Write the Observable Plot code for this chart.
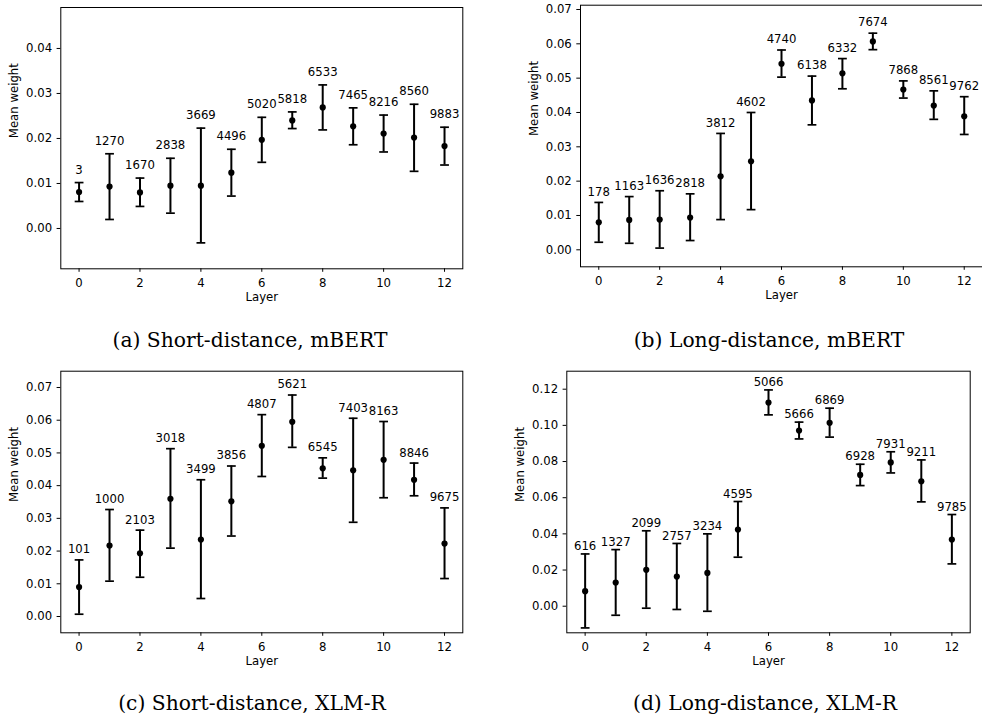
<!DOCTYPE html>
<html>
<head>
<meta charset="utf-8">
<script src="https://cdn.jsdelivr.net/npm/d3@7"></script>
<script src="https://cdn.jsdelivr.net/npm/@observablehq/plot@0.6"></script>
<style>
  html, body { margin: 0; padding: 0; background: #fff; }
  #wrap { position: relative; width: 982px; height: 722px; background: #fff; overflow: hidden; }
  .panel { position: absolute; }
  .cap { position: absolute; font-family: "DejaVu Serif", serif; font-size: 20.3px; line-height: 20.3px;
         color: #000; white-space: nowrap; transform: translateX(-50%); }
</style>
</head>
<body>
<div id="wrap"></div>
<script>
// ---------- data ----------
const layers = [0, 1, 2, 3, 4, 5, 6, 7, 8, 9, 10, 11, 12];
const xTicks = [0, 2, 4, 6, 8, 10, 12];
const xDomain = [-0.6, 12.6];

// (a) Short-distance, mBERT
const aMean  = [0.0081, 0.0093, 0.0080, 0.0095, 0.0095, 0.0124, 0.0197, 0.0240, 0.0269, 0.0227, 0.0211, 0.0202, 0.0183];
const aLow   = [0.0060, 0.0020, 0.0049, 0.0034, -0.0032, 0.0072, 0.0147, 0.0222, 0.0219, 0.0186, 0.0170, 0.0127, 0.0141];
const aHigh  = [0.0102, 0.0166, 0.0112, 0.0156, 0.0223, 0.0176, 0.0247, 0.0259, 0.0319, 0.0268, 0.0252, 0.0276, 0.0225];
const aCount = [3, 1270, 1670, 2838, 3669, 4496, 5020, 5818, 6533, 7465, 8216, 8560, 9883];
const aYTicks = [0, 0.01, 0.02, 0.03, 0.04];
const aYDomain = [-0.00896, 0.0491];

// (b) Long-distance, mBERT
const bMean  = [0.0080, 0.0087, 0.0088, 0.0094, 0.0214, 0.0258, 0.0542, 0.0435, 0.0514, 0.0607, 0.0467, 0.0420, 0.0389];
const bLow   = [0.0022, 0.0019, 0.0005, 0.0027, 0.0088, 0.0117, 0.0503, 0.0364, 0.0469, 0.0583, 0.0442, 0.0380, 0.0336];
const bHigh  = [0.0138, 0.0155, 0.0172, 0.0163, 0.0339, 0.0400, 0.0582, 0.0506, 0.0557, 0.0631, 0.0492, 0.0463, 0.0446];
const bCount = [178, 1163, 1636, 2818, 3812, 4602, 4740, 6138, 6332, 7674, 7868, 8561, 9762];
const bYTicks = [0, 0.01, 0.02, 0.03, 0.04, 0.05, 0.06, 0.07];
const bYDomain = [-0.00495, 0.07125];

// (c) Short-distance, XLM-R
const cMean  = [0.0090, 0.0217, 0.0193, 0.0360, 0.0235, 0.0352, 0.0522, 0.0595, 0.0453, 0.0447, 0.0479, 0.0418, 0.0223];
const cLow   = [0.0007, 0.0108, 0.0120, 0.0209, 0.0055, 0.0246, 0.0428, 0.0517, 0.0423, 0.0288, 0.0363, 0.0369, 0.0116];
const cHigh  = [0.0173, 0.0327, 0.0264, 0.0513, 0.0418, 0.0460, 0.0617, 0.0677, 0.0485, 0.0606, 0.0596, 0.0469, 0.0332];
const cCount = [101, 1000, 2103, 3018, 3499, 3856, 4807, 5621, 6545, 7403, 8163, 8846, 9675];
const cYTicks = [0, 0.01, 0.02, 0.03, 0.04, 0.05, 0.06, 0.07];
const cYDomain = [-0.00498, 0.07498];

// (d) Long-distance, XLM-R
const dMean  = [0.0083, 0.0131, 0.0201, 0.0164, 0.0184, 0.0424, 0.1126, 0.0971, 0.1014, 0.0726, 0.0795, 0.0691, 0.0369];
const dLow   = [-0.0120, -0.0050, -0.0011, -0.0018, -0.0028, 0.0271, 0.1058, 0.0925, 0.0935, 0.0667, 0.0737, 0.0577, 0.0234];
const dHigh  = [0.0289, 0.0313, 0.0417, 0.0347, 0.0400, 0.0579, 0.1196, 0.1018, 0.1095, 0.0785, 0.0854, 0.0809, 0.0507];
const dCount = [616, 1327, 2099, 2757, 3234, 4595, 5066, 5666, 6869, 6928, 7931, 9211, 9785];
const dYTicks = [0, 0.02, 0.04, 0.06, 0.08, 0.10, 0.12];
const dYDomain = [-0.0147, 0.12995];

const captions = ["(a) Short-distance, mBERT", "(b) Long-distance, mBERT", "(c) Short-distance, XLM-R", "(d) Long-distance, XLM-R"];

// ---------- drawing ----------
const capSymbol = {
  draw(ctx, size) {
    const r = Math.sqrt(size / Math.PI);
    ctx.moveTo(-r, 0);
    ctx.lineTo(r, 0);
  }
};

function panel(cfg) {
  const rows = layers.map((l, i) => ({layer: l, mean: cfg.mean[i], lo: cfg.low[i], hi: cfg.high[i], n: cfg.count[i]}));
  const chart = Plot.plot({
    width: cfg.width,
    height: cfg.height,
    marginLeft: cfg.ml, marginRight: cfg.mr, marginTop: cfg.mt, marginBottom: cfg.mb,
    style: {fontFamily: "'DejaVu Sans', sans-serif", fontSize: "11.7px", color: "black", background: "transparent", overflow: "visible"},
    x: {domain: xDomain},
    y: {domain: cfg.yDomain},
    marks: [
      Plot.frame({stroke: "black", strokeWidth: 1}),
      Plot.axisX(xTicks, {tickSize: 3.5, tickPadding: 6.5, label: null, fill: "black", stroke: "black"}),
      Plot.axisY(cfg.yTicks, {tickSize: 3.7, tickPadding: 5, tickFormat: d3.format(".2f"), label: null, fill: "black", stroke: "black"}),
      Plot.text(["Layer"], {text: d => d, frameAnchor: "bottom", dy: 31.7, fill: "black"}),
      Plot.text(["Mean weight"], {text: d => d, frameAnchor: "left", dx: cfg.ylabDx, rotate: -90, fill: "black"}),
      Plot.ruleX(rows, {x: "layer", y1: "lo", y2: "hi", stroke: "black", strokeWidth: 2}),
      Plot.dot(rows, {x: "layer", y: "lo", symbol: capSymbol, r: 4.4, stroke: "black", strokeWidth: 1.7, fill: "none"}),
      Plot.dot(rows, {x: "layer", y: "hi", symbol: capSymbol, r: 4.4, stroke: "black", strokeWidth: 1.7, fill: "none"}),
      Plot.dot(rows, {x: "layer", y: "mean", r: 3.1, fill: "black", stroke: "none"}),
      Plot.text(rows, {x: "layer", y: "hi", text: d => String(d.n), dy: -cfg.labOff, fill: "black"})
    ]
  });
  chart.classList.add("panel");
  chart.style.left = cfg.left + "px";
  chart.style.top = cfg.top + "px";
  return chart;
}

const wrap = document.getElementById("wrap");

wrap.appendChild(panel({left: 0, top: 0, width: 491, height: 310, ml: 60.3, mr: 28.7, mt: 7, mb: 41.7,
  mean: aMean, low: aLow, high: aHigh, count: aCount, yTicks: aYTicks, yDomain: aYDomain, ylabDx: -47, labOff: 12.7}));
wrap.appendChild(panel({left: 491, top: 0, width: 491, height: 310, ml: 89, mr: 0, mt: 4.7, mb: 43.7,
  mean: bMean, low: bLow, high: bHigh, count: bCount, yTicks: bYTicks, yDomain: bYDomain, ylabDx: -46.7, labOff: 10.5}));
wrap.appendChild(panel({left: 0, top: 360, width: 491, height: 315, ml: 60.3, mr: 28.7, mt: 10.7, mb: 42.7,
  mean: cMean, low: cLow, high: cHigh, count: cCount, yTicks: cYTicks, yDomain: cYDomain, ylabDx: -47, labOff: 10.3}));
wrap.appendChild(panel({left: 491, top: 360, width: 491, height: 315, ml: 75.3, mr: 12.3, mt: 10.7, mb: 42.7,
  mean: dMean, low: dLow, high: dHigh, count: dCount, yTicks: dYTicks, yDomain: dYDomain, ylabDx: -47, labOff: 7.7}));

const capPos = [[250, 329.5], [769, 329.5], [252, 693.3], [765, 693.3]];
captions.forEach((t, i) => {
  const d = document.createElement("div");
  d.className = "cap";
  d.textContent = t;
  d.style.left = capPos[i][0] + "px";
  d.style.top = capPos[i][1] + "px";
  wrap.appendChild(d);
});
</script>
</body>
</html>
